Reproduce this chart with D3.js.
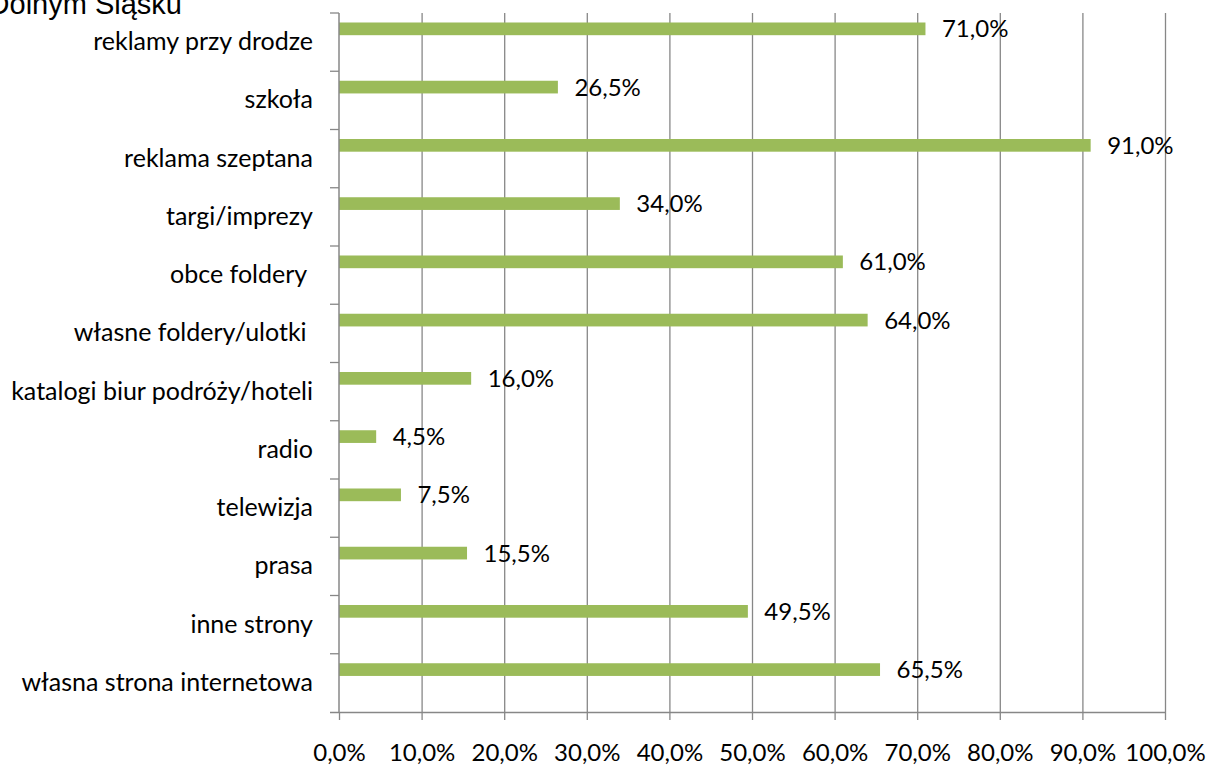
<!DOCTYPE html>
<html>
<head>
<meta charset="utf-8">
<script src="https://cdn.jsdelivr.net/npm/d3@7"></script>
<style>
  html, body { margin: 0; padding: 0; background: #fff; overflow: hidden; }
  svg { display: block; }
  text { white-space: pre; }
</style>
</head>
<body>
<svg id="chart" width="1206" height="766"></svg>
<script>
const titleText = "Źródła informacji o ofercie turystycznej na Dolnym Śląsku";
const categories = [
  "reklamy przy drodze",
  "szkoła",
  "reklama szeptana",
  "targi/imprezy",
  "obce foldery ",
  "własne foldery/ulotki ",
  "katalogi biur podróży/hoteli",
  "radio",
  "telewizja",
  "prasa",
  "inne strony",
  "własna strona internetowa"
];
const values = [0.71, 0.265, 0.91, 0.34, 0.61, 0.64, 0.16, 0.045, 0.075, 0.155, 0.495, 0.655];
const xTicks = [0, 0.1, 0.2, 0.3, 0.4, 0.5, 0.6, 0.7, 0.8, 0.9, 1.0];

const locale = d3.formatLocale({decimal: ",", thousands: " ", grouping: [3], currency: ["", " zł"]});
const pct = locale.format(".1%");

const svg = d3.select("#chart");
const margin = {left: 339, right: 41, top: 13, bottom: 54};
const W = 1206, H = 766;
const x = d3.scaleLinear().domain([0, 1]).range([margin.left, W - margin.right]);
const y = d3.scaleBand().domain(categories).range([margin.top, H - margin.bottom]).paddingInner(0).paddingOuter(0);
const bw = y.bandwidth();

const font = "Lato, 'Open Sans', sans-serif";
const gridColor = "#878787";

// title (cut off at top, as in the reference)
svg.append("text")
  .attr("x", 182).attr("y", 14)
  .attr("text-anchor", "end")
  .style("font-family", "'Liberation Sans', Arial, sans-serif")
  .style("font-size", "29px")
  .attr("fill", "#000")
  .text(titleText);

// vertical gridlines
const grid = svg.append("g")
  .attr("transform", `translate(0,${H - margin.bottom})`)
  .call(d3.axisBottom(x).tickValues(xTicks.slice(1)).tickSize(-(H - margin.bottom - margin.top)).tickFormat(""));
grid.select(".domain").remove();
grid.selectAll(".tick line").attr("stroke", gridColor).attr("stroke-width", 1.3);

// bars
svg.append("g").selectAll("rect")
  .data(categories)
  .join("rect")
  .attr("x", x(0))
  .attr("y", (d) => y(d) + bw * 0.163)
  .attr("width", (d, i) => x(values[i]) - x(0))
  .attr("height", bw * 0.218)
  .attr("fill", "#9BBB59");

// value labels
svg.append("g").selectAll("text")
  .data(categories)
  .join("text")
  .attr("x", (d, i) => x(values[i]) + 16.5)
  .attr("y", (d) => y(d) + bw * 0.272)
  .attr("dy", "0.36em")
  .style("font-family", font)
  .style("font-size", "24px")
  .attr("fill", "#000")
  .text((d, i) => pct(values[i]));

// x axis
const xAxis = svg.append("g")
  .attr("transform", `translate(0,${H - margin.bottom})`)
  .call(d3.axisBottom(x).tickValues(xTicks).tickSize(8).tickPadding(24).tickFormat(pct));
xAxis.select(".domain").attr("d", `M${margin.left - 9},0.5H${W - margin.right}`).attr("stroke", gridColor).attr("stroke-width", 1.5);
xAxis.selectAll(".tick line").attr("stroke", gridColor).attr("stroke-width", 1.3);
xAxis.selectAll(".tick text")
  .style("font-family", font).style("font-size", "24px").attr("fill", "#000");

// y axis
const yAxis = svg.append("g").attr("transform", `translate(${margin.left},0)`);
yAxis.append("line")
  .attr("x1", 0).attr("x2", 0)
  .attr("y1", margin.top).attr("y2", H - margin.bottom)
  .attr("stroke", gridColor).attr("stroke-width", 1.5);
yAxis.selectAll("line.tk")
  .data(categories)
  .join("line")
  .attr("class", "tk")
  .attr("x1", -9).attr("x2", 0)
  .attr("y1", d => y(d)).attr("y2", d => y(d))
  .attr("stroke", gridColor).attr("stroke-width", 1.3);
yAxis.selectAll("text")
  .data(categories)
  .join("text")
  .attr("x", -26)
  .attr("y", d => y(d) + bw / 2)
  .attr("dy", "0.32em")
  .attr("text-anchor", "end")
  .style("font-family", font).style("font-size", "25px")
  .attr("fill", "#000")
  .text(d => d);
</script>
</body>
</html>
